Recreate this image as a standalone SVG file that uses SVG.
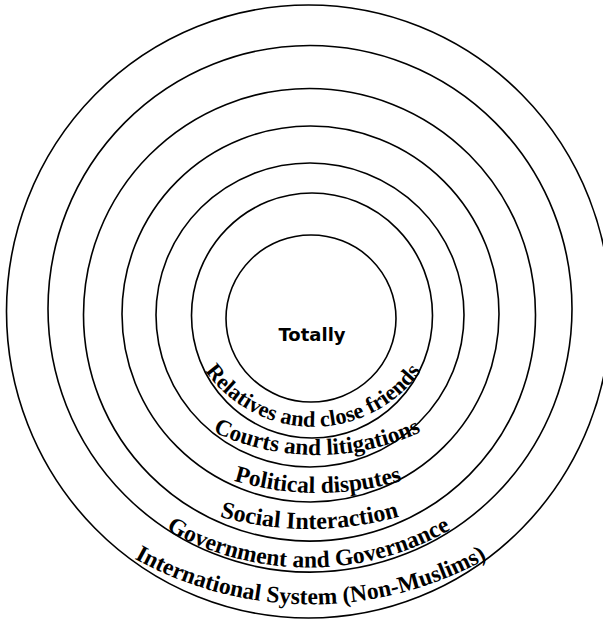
<svg xmlns="http://www.w3.org/2000/svg" xmlns:xlink="http://www.w3.org/1999/xlink" width="603" height="624" viewBox="0 0 603 624">
<style>
.ring{fill:none;stroke:#000;stroke-width:1.6}
.lbl{font-family:"Liberation Serif","Times New Roman",serif;font-weight:bold;fill:#000}
.core{font-family:"DejaVu Sans","Verdana",sans-serif;font-weight:bold;font-size:18px;fill:#000}
</style>
<defs>
<path id="pRel" d="M182,311 A132,132 0 0 0 444,311"/>
<path id="pCou" d="M176.7,410.8 A244.6,244.6 0 0 0 457.3,410.8"/>
<path id="pPol" d="M194.8,465.7 A291.5,291.5 0 0 0 441.2,465.7"/>
<path id="pSoc" d="M169.2,497.9 A332,332 0 0 0 449.8,497.9"/>
<path id="pGov" d="M124.7,500.6 A286,286 0 0 0 492.3,500.6"/>
<path id="pInt" d="M103.2,538.9 A361.7,361.7 0 0 0 518.2,538.9"/>
</defs>
<rect width="603" height="624" fill="#fff"/>
<g id="international">
<ellipse class="ring" cx="308.5" cy="311.5" rx="302" ry="306.5"/>
<text class="lbl" font-size="23.5" text-anchor="middle"><textPath xlink:href="#pInt" href="#pInt" startOffset="50%">International System (Non-Muslims)</textPath></text>
</g>
<g id="government">
<ellipse class="ring" cx="310" cy="308.8" rx="262" ry="263.3"/>
<text class="lbl" font-size="23.5" text-anchor="middle"><textPath xlink:href="#pGov" href="#pGov" startOffset="50%">Government and Governance</textPath></text>
</g>
<g id="social">
<ellipse class="ring" cx="309.5" cy="314.8" rx="226" ry="226.3"/>
<text class="lbl" font-size="24" text-anchor="middle"><textPath xlink:href="#pSoc" href="#pSoc" startOffset="50%">Social Interaction</textPath></text>
</g>
<g id="political">
<ellipse class="ring" cx="310.5" cy="314" rx="188.5" ry="188"/>
<text class="lbl" font-size="23.5" text-anchor="middle"><textPath xlink:href="#pPol" href="#pPol" startOffset="50%">Political disputes</textPath></text>
</g>
<g id="courts">
<ellipse class="ring" cx="310" cy="315" rx="154" ry="152"/>
<text class="lbl" font-size="23.2" text-anchor="middle"><textPath xlink:href="#pCou" href="#pCou" startOffset="50%">Courts and litigations</textPath></text>
</g>
<g id="relatives">
<ellipse class="ring" cx="312" cy="315.5" rx="120.5" ry="122.5"/>
<text class="lbl" font-size="22.3" text-anchor="middle"><textPath xlink:href="#pRel" href="#pRel" startOffset="50%">Relatives and close friends</textPath></text>
</g>
<g id="totally">
<ellipse class="ring" cx="311" cy="318.5" rx="85" ry="83.5"/>
<text class="core" x="312" y="341" text-anchor="middle">Totally</text>
</g>
</svg>
